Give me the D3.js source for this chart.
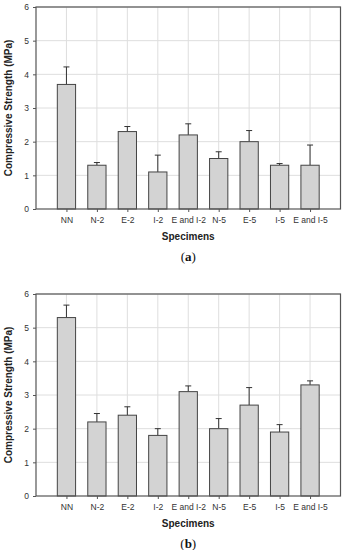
<!DOCTYPE html>
<html>
<head>
<meta charset="utf-8">
<script src="https://cdn.jsdelivr.net/npm/d3@7"></script>
<style>
body{margin:0;background:#fff;}
</style>
</head>
<body>
<div class="canvas"></div>
<script>
//specimen names, shared by both panels
const specimens=['NN','N-2','E-2','I-2','E and I-2','N-5','E-5','I-5','E and I-5'];
const yTicks=[0,1,2,3,4,5,6];

//panel (a)
const meanA=[3.7,1.3,2.3,1.1,2.2,1.5,2.0,1.3,1.3];
const errA=[0.52,0.08,0.15,0.5,0.33,0.2,0.33,0.05,0.6];
//panel (b)
const meanB=[5.3,2.2,2.4,1.8,3.1,2.0,2.7,1.9,3.3];
const errB=[0.37,0.25,0.25,0.2,0.17,0.3,0.52,0.22,0.12];

const svg=d3.select('.canvas').append('svg')
    .attr('width',345)
    .attr('height',550);

//x is a linear slot scale: bar i sits at slot i+1, frame ends at slot 10
const x=d3.scaleLinear().domain([0,10]).range([36,340.5]);
const barW=x(0.6)-x(0);

function panel(top,means,errs,label){
  const y=d3.scaleLinear().domain([0,6]).range([top+202,top]);
  const g=svg.append('g');

  //grid
  g.selectAll('.hg').data(yTicks.slice(1)).enter().append('line')
    .attr('x1',x(0)).attr('x2',x(10))
    .attr('y1',d=>y(d)).attr('y2',d=>y(d))
    .attr('stroke','#dedede').attr('stroke-width',1);
  g.selectAll('.vg').data(specimens).enter().append('line')
    .attr('x1',(d,i)=>x(i+1)).attr('x2',(d,i)=>x(i+1))
    .attr('y1',y(0)).attr('y2',y(6))
    .attr('stroke','#dedede').attr('stroke-width',1);

  //error bars (upper only)
  g.selectAll('.err').data(means).enter().append('line')
    .attr('x1',(d,i)=>x(i+1)).attr('x2',(d,i)=>x(i+1))
    .attr('y1',d=>y(d)).attr('y2',(d,i)=>y(d+errs[i]))
    .attr('stroke','#333').attr('stroke-width',1);
  g.selectAll('.cap').data(means).enter().append('line')
    .attr('x1',(d,i)=>x(i+1)-3).attr('x2',(d,i)=>x(i+1)+3)
    .attr('y1',(d,i)=>y(d+errs[i])).attr('y2',(d,i)=>y(d+errs[i]))
    .attr('stroke','#333').attr('stroke-width',1);

  //bars
  g.selectAll('.bar').data(means).enter().append('rect')
    .attr('x',(d,i)=>x(i+1)-barW/2)
    .attr('y',d=>y(d))
    .attr('width',barW)
    .attr('height',d=>y(0)-y(d))
    .attr('fill','#d3d3d3')
    .attr('stroke','#444')
    .attr('stroke-width',1);

  //frame
  g.append('rect')
    .attr('x',x(0)).attr('y',y(6))
    .attr('width',x(10)-x(0)).attr('height',y(0)-y(6))
    .attr('fill','none').attr('stroke','#555').attr('stroke-width',1.2);

  //axes
  const yAxis=g.append('g')
    .attr('transform',`translate(${x(0)},0)`)
    .call(d3.axisLeft(y).tickValues(yTicks).tickSize(3).tickPadding(4).tickFormat(d3.format('d')));
  yAxis.select('.domain').remove();
  yAxis.selectAll('line').attr('stroke','#555');
  yAxis.selectAll('text').style('font-family','Arial').style('font-size','8.5px').style('fill','#333');

  const xb=d3.scaleOrdinal().domain(specimens).range(specimens.map((d,i)=>x(i+1)));
  const xAxis=g.append('g')
    .attr('transform',`translate(0,${y(0)})`)
    .call(d3.axisBottom(xb).tickSize(3).tickPadding(5));
  xAxis.select('.domain').remove();
  xAxis.selectAll('line').attr('stroke','#555');
  xAxis.selectAll('text').style('font-family','Arial').style('font-size','8.5px').style('fill','#333');

  //titles
  g.append('text')
    .attr('x',(x(0)+x(10))/2).attr('y',y(0)+31)
    .attr('text-anchor','middle')
    .style('font-family','Arial').style('font-weight','bold').style('font-size','10px')
    .style('fill','#222')
    .text('Specimens');
  g.append('text')
    .attr('transform',`translate(12,${(y(0)+y(6))/2}) rotate(-90)`)
    .attr('text-anchor','middle')
    .style('font-family','Arial').style('font-weight','bold').style('font-size','10px')
    .style('fill','#222')
    .text('Compressive Strength (MPa)');
  g.append('text')
    .attr('x',(x(0)+x(10))/2).attr('y',y(0)+52)
    .attr('text-anchor','middle')
    .style('font-family','Liberation Serif, serif').style('font-size','13px')
    .style('fill','#111')
    .html('(<tspan font-weight="bold">'+label+'</tspan>)');
}

panel(7,meanA,errA,'a');
panel(294,meanB,errB,'b');
</script>
</body>
</html>
